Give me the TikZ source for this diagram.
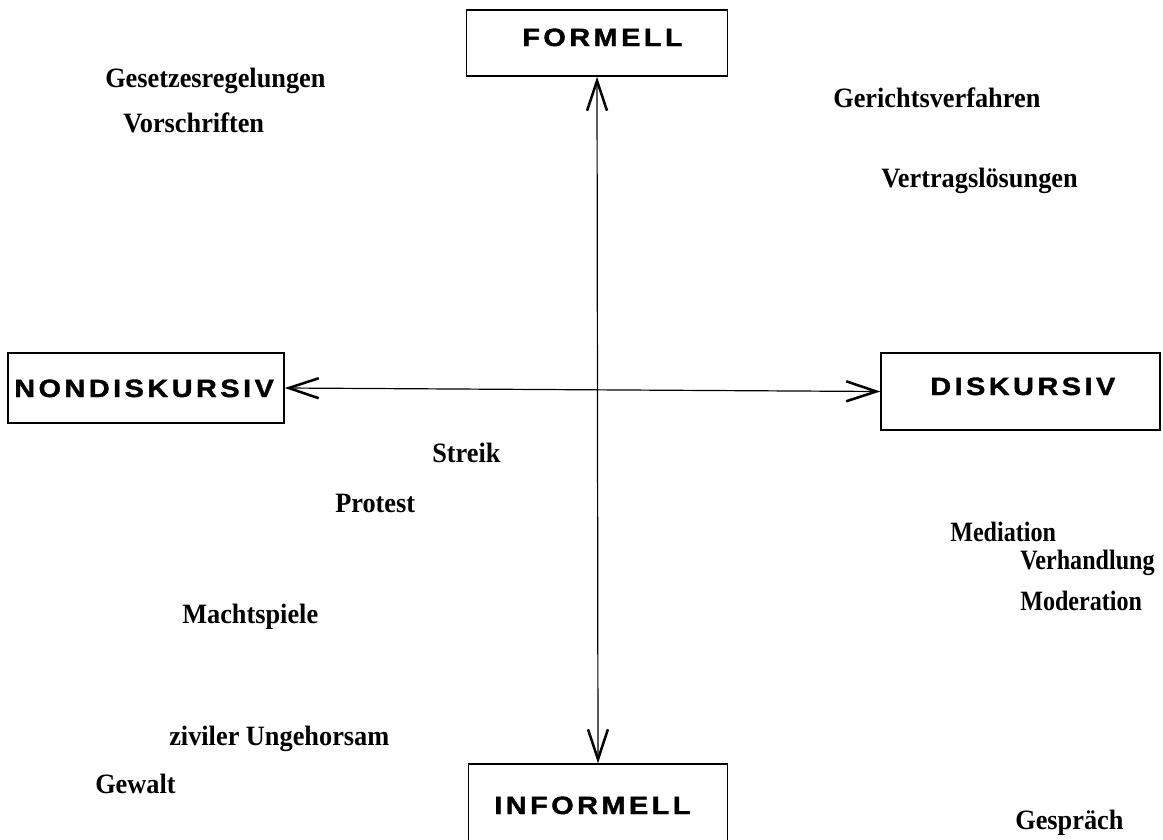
\documentclass[tikz,border=0pt]{standalone}
\usepackage{fontspec}
\setmainfont{Liberation Serif}
\newfontfamily\lblfont{Liberation Serif}[FakeStretch=0.94]
\newfontfamily\lblfontn{Liberation Serif}[FakeStretch=0.86]
\newfontfamily\boxfont{Liberation Sans Bold}[LetterSpace=14,FakeStretch=1.15,FakeBold=1.5]
\usetikzlibrary{arrows.meta}
\begin{document}
\begin{tikzpicture}[x=0.75pt,y=-0.75pt,
  boxst/.style={draw, line width=1.1pt, inner sep=0pt},
  boxlbl/.style={anchor=base west, inner sep=0pt, font=\boxfont\fontsize{18.8pt}{22pt}\selectfont},
  itemlbl/.style={anchor=base west, inner sep=0pt, font=\lblfont\bfseries\fontsize{21pt}{24pt}\selectfont},
  itemlbln/.style={itemlbl, font=\lblfontn\bfseries\fontsize{21pt}{24pt}\selectfont},
  axis/.style={line width=0.9pt, {Straight Barb[length=22.5pt,width=15pt,line width=1.9pt]}-{Straight Barb[length=22.5pt,width=15pt,line width=1.9pt]}}]
\useasboundingbox[fill=white] (0,0) rectangle (1163,839);
% boxes
\node[boxst, minimum width=261*0.75pt, minimum height=66*0.75pt] (F) at (597,43) {};
\node[boxst, minimum width=276*0.75pt, minimum height=70*0.75pt] (N) at (146,388) {};
\node[boxst, minimum width=279*0.75pt, minimum height=77*0.75pt] (D) at (1020.5,391.5) {};
\node[boxst, minimum width=259*0.75pt, minimum height=106*0.75pt] (I) at (598,817) {};
% box labels
\node[boxlbl] (tF) at (522,46) {FORMELL};
\node[boxlbl] (tN) at (14,397) {NONDISKURSIV};
\node[boxlbl] (tD) at (930,395) {DISKURSIV};
\node[boxlbl] (tI) at (494,814) {INFORMELL};
% axes
\draw[axis] (F.south) -- (I.north);
\draw[axis] (N.east) -- (D.west);
% items
\node[itemlbl] (a1) at (105,87) {Gesetzesregelungen};
\node[itemlbl] (a2) at (123,132) {Vorschriften};
\node[itemlbl] (b1) at (833,107) {Gerichtsverfahren};
\node[itemlbl] (b2) at (881,187) {Vertragslösungen};
\node[itemlbl] (c1) at (432,462) {Streik};
\node[itemlbl] (c2) at (335,512) {Protest};
\node[itemlbl] (c3) at (182,623) {Machtspiele};
\node[itemlbl] (c4) at (169,745) {ziviler Ungehorsam};
\node[itemlbl] (c5) at (95,793) {Gewalt};
\node[itemlbln] (d1) at (950,541) {Mediation};
\node[itemlbln] (d2) at (1020,569) {Verhandlung};
\node[itemlbln] (d3) at (1020,610) {Moderation};
\node[itemlbl] (d4) at (1015,829) {Gespräch};
\end{tikzpicture}
\end{document}
